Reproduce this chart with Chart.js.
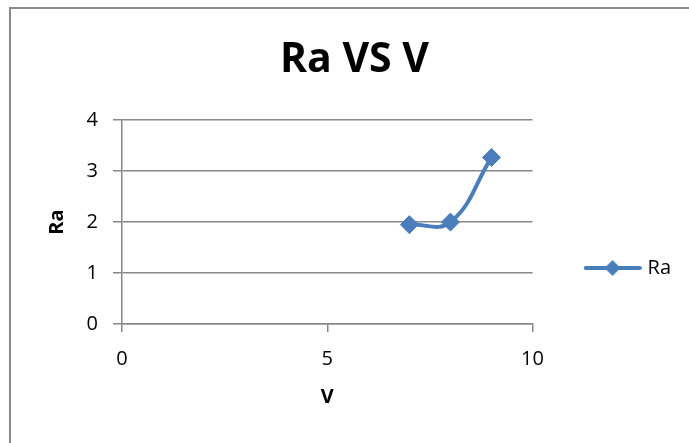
<!DOCTYPE html>
<html>
<head>
<meta charset="utf-8">
<script src="https://cdn.jsdelivr.net/npm/chart.js@4/dist/chart.umd.min.js"></script>
<style>
  html, body { margin: 0; padding: 0; background: #fff; overflow: hidden; }
  #wrap { position: relative; width: 689px; height: 443px; overflow: hidden; }
  #frame { position: absolute; left: 9px; top: 7px; width: 800px; height: 600px;
           border: 2px solid #8a8a8a; box-sizing: border-box; }
  #c { position: absolute; left: 0; top: 0; }
</style>
</head>
<body>
<div id="wrap">
  <div id="frame"></div>
  <canvas id="c" width="689" height="443"></canvas>
</div>
<script>
// Measured points
const vValues = [7, 8, 9];
const raValues = [1.95, 2.0, 3.27];
const seriesName = 'Ra';
const xTicks = [0, 5, 10];
const yTicks = [0, 1, 2, 3, 4];

const FONT = '"Open Sans", "Liberation Sans", sans-serif';
const BLUE = '#4a7ebb';
const GRID = '#888888';

// Legend icon: short line with a diamond in the middle
const icon = document.createElement('canvas');
icon.width = 58; icon.height = 20;
(function () {
  const g = icon.getContext('2d');
  g.strokeStyle = BLUE; g.lineWidth = 4; g.lineCap = 'round';
  g.beginPath(); g.moveTo(2, 10); g.lineTo(56, 10); g.stroke();
  g.fillStyle = BLUE;
  g.beginPath(); g.moveTo(29, 2); g.lineTo(37, 10); g.lineTo(29, 18); g.lineTo(21, 10); g.closePath(); g.fill();
})();

const points = vValues.map((v, i) => ({ x: v, y: raValues[i] }));

new Chart(document.getElementById('c'), {
  type: 'line',
  data: {
    datasets: [{
      label: seriesName,
      data: points,
      borderColor: BLUE,
      backgroundColor: BLUE,
      borderWidth: 4,
      tension: 0.42,
      pointStyle: 'rectRot',
      pointRadius: 9,
      pointBorderWidth: 1,
      pointBackgroundColor: BLUE,
      pointBorderColor: BLUE,
      fill: false
    }]
  },
  options: {
    responsive: false,
    animation: false,
    devicePixelRatio: 1,
    layout: { padding: { left: 28, right: 8, top: 0, bottom: 26 } },
    plugins: {
      title: {
        display: true,
        text: 'Ra VS V',
        color: '#000',
        font: { family: FONT, size: 41, weight: 'bold' },
        padding: { top: 36, bottom: 35 }
      },
      legend: {
        position: 'right',
        align: 'center',
        // empty title block only pushes the entry down beside the plot
        title: { display: true, text: '', font: { size: 10 }, padding: { top: 107, bottom: 0 } },
        labels: {
          usePointStyle: true,
          pointStyle: icon,
          pointStyleWidth: 50,
          padding: 55,
          color: '#000',
          font: { family: FONT, size: 20 }
        }
      },
      tooltip: { enabled: false }
    },
    scales: {
      x: {
        type: 'linear',
        min: xTicks[0],
        max: xTicks[xTicks.length - 1],
        afterBuildTicks: (s) => { s.ticks = xTicks.map(v => ({ value: v })); },
        ticks: { color: '#000', padding: 15, font: { family: FONT, size: 20 } },
        grid: { drawOnChartArea: false, tickLength: 8, color: GRID, lineWidth: 1.5 },
        border: { color: GRID, width: 1.5 },
        title: {
          display: true, text: 'V', color: '#000',
          font: { family: FONT, size: 20, weight: 'bold' },
          padding: { top: 0, bottom: 8 }
        },
        afterFit: (s) => { s.height = 93; }
      },
      y: {
        type: 'linear',
        min: yTicks[0],
        max: yTicks[yTicks.length - 1],
        afterBuildTicks: (s) => { s.ticks = yTicks.map(v => ({ value: v })); },
        ticks: { color: '#000', padding: 15, font: { family: FONT, size: 20 } },
        grid: { tickLength: 9, color: GRID, lineWidth: 1.5 },
        border: { color: GRID, width: 1.5 },
        title: {
          display: true, text: 'Ra', color: '#000',
          font: { family: FONT, size: 20, weight: 'bold' },
          padding: { top: 17, bottom: 0 }
        },
        afterFit: (s) => { s.width = 94; }
      }
    }
  }
});
</script>
</body>
</html>
